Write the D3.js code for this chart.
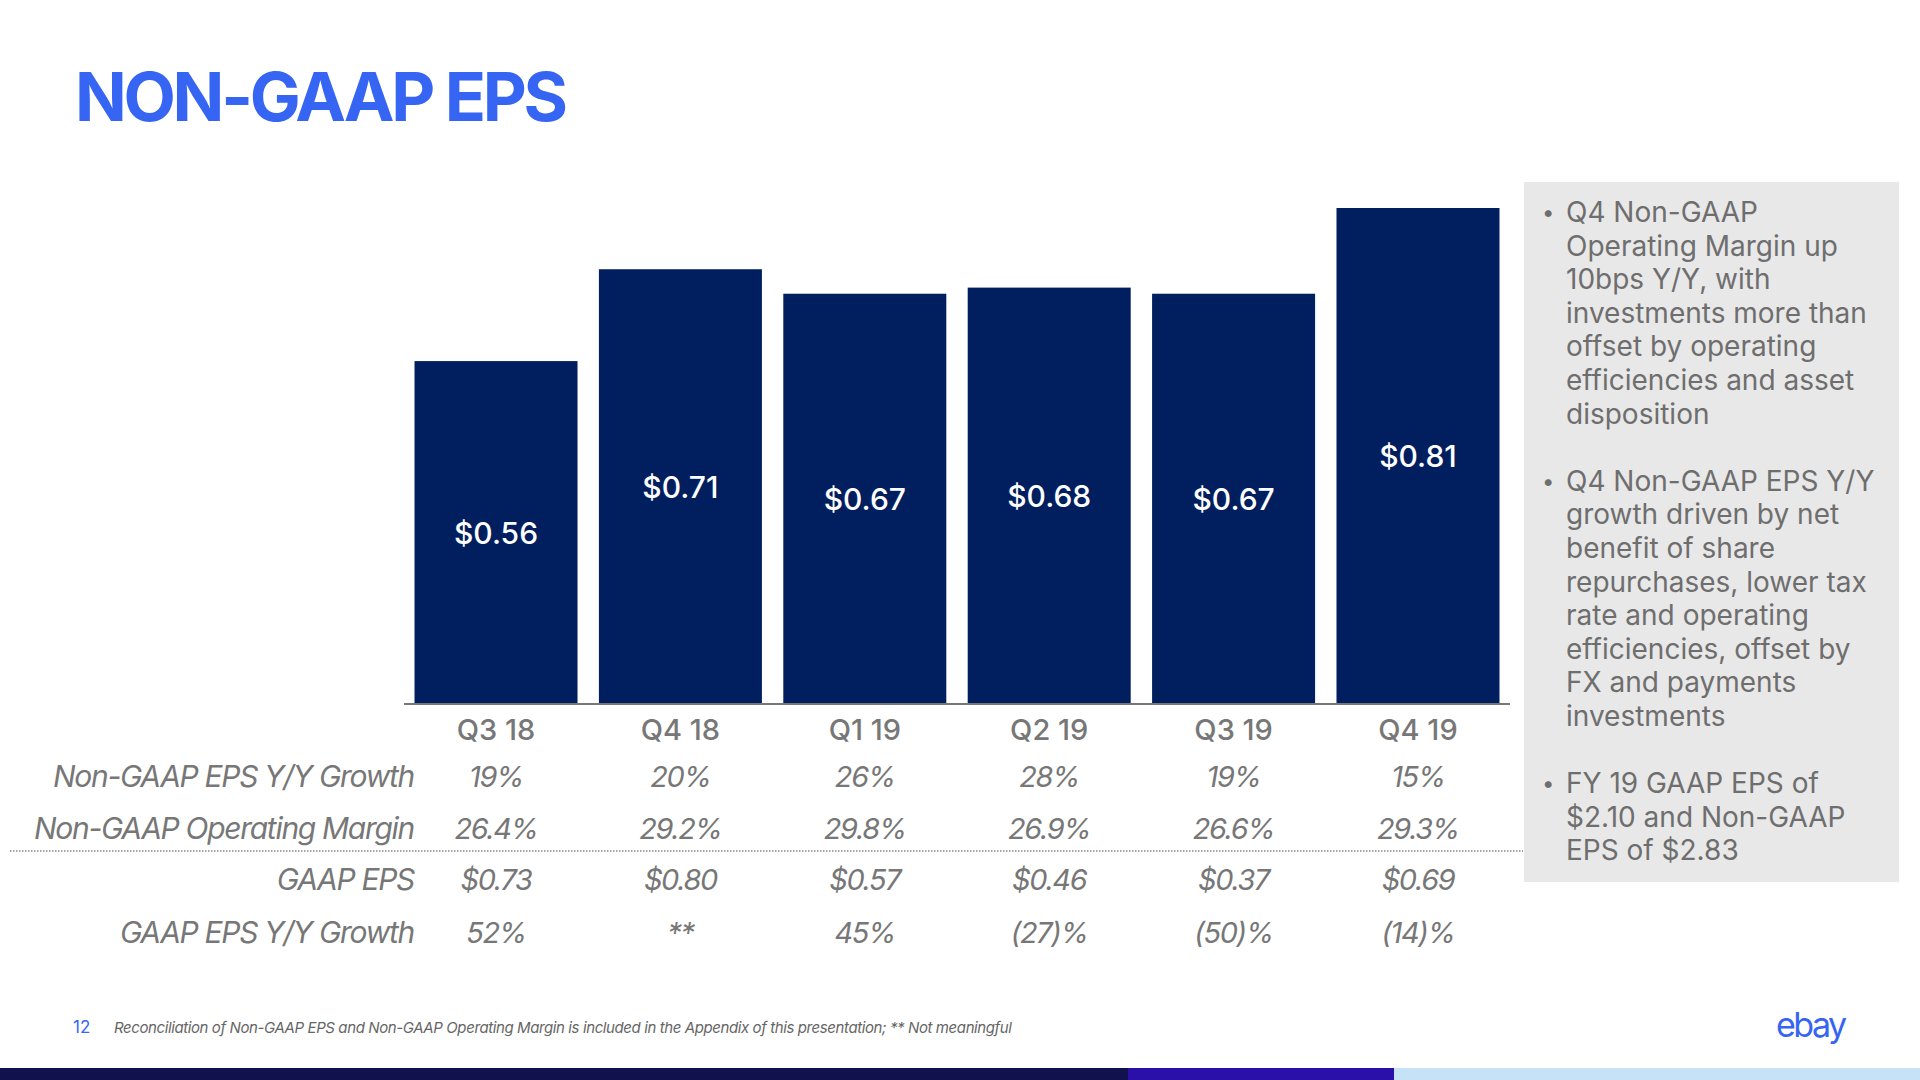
<!DOCTYPE html>
<html>
<head>
<meta charset="utf-8">
<script src="https://cdn.jsdelivr.net/npm/d3@7"></script>
<style>
  html, body { margin: 0; padding: 0; background: #ffffff; }
  svg { display: block; }
  text { font-family: Inter, "Noto Sans", sans-serif; }
</style>
</head>
<body>
<svg id="chart" width="1920" height="1080"></svg>
<script>
// ---- data ----
const categories = ["Q3 18", "Q4 18", "Q1 19", "Q2 19", "Q3 19", "Q4 19"];
const nonGaapEps = [0.56, 0.71, 0.67, 0.68, 0.67, 0.81];
const rowLabels = ["Non-GAAP EPS Y/Y Growth", "Non-GAAP Operating Margin", "GAAP EPS", "GAAP EPS Y/Y Growth"];
const nonGaapGrowth = ["19%", "20%", "26%", "28%", "19%", "15%"];
const nonGaapMargin = ["26.4%", "29.2%", "29.8%", "26.9%", "26.6%", "29.3%"];
const gaapEps = ["$0.73", "$0.80", "$0.57", "$0.46", "$0.37", "$0.69"];
const gaapGrowth = ["52%", "**", "45%", "(27)%", "(50)%", "(14)%"];
const bullets = [
  ["Q4 Non-GAAP", "Operating Margin up", "10bps Y/Y, with", "investments more than", "offset by operating", "efficiencies and asset", "disposition"],
  ["Q4 Non-GAAP EPS Y/Y", "growth driven by net", "benefit of share", "repurchases, lower tax", "rate and operating", "efficiencies, offset by", "FX and payments", "investments"],
  ["FY 19 GAAP EPS of", "$2.10 and Non-GAAP", "EPS of $2.83"]
];
const title = "NON-GAAP EPS";
const footnote = "Reconciliation of Non-GAAP EPS and Non-GAAP Operating Margin is included in the Appendix of this presentation; ** Not meaningful";
const pageNumber = "12";

// ---- layout ----
const svg = d3.select("#chart");
const blue = "#3665f3";
const navy = "#011f5e";
const gray = "#777777";

svg.append("text")
  .attr("x", 75).attr("y", 121)
  .attr("fill", blue)
  .attr("font-size", 68).attr("font-weight", 700)
  .attr("letter-spacing", -3.3)
  .text(title);

const x = d3.scaleBand().domain(categories).range([404, 1510]).paddingInner(0.116).paddingOuter(0.057);
const y = d3.scaleLinear().domain([0, 0.81]).range([704, 208]);

svg.append("g").selectAll("rect").data(nonGaapEps).join("rect")
  .attr("x", (d, i) => x(categories[i]))
  .attr("y", d => y(d))
  .attr("width", x.bandwidth())
  .attr("height", d => y(0) - y(d))
  .attr("fill", navy);

svg.append("g").selectAll("text").data(nonGaapEps).join("text")
  .attr("x", (d, i) => x(categories[i]) + x.bandwidth() / 2)
  .attr("y", d => (y(d) + y(0)) / 2)
  .attr("text-anchor", "middle").attr("dominant-baseline", "central")
  .attr("fill", "#ffffff").attr("font-size", 30).attr("font-weight", 500)
  .text(d => "$" + d.toFixed(2));

// axis
const xAxis = d3.axisBottom(x).tickSize(0).tickPadding(0);
const ax = svg.append("g").attr("transform", "translate(0,704)").call(xAxis);
ax.select(".domain").attr("stroke", gray).attr("stroke-width", 2).attr("d", "M404,0H1510");
ax.selectAll(".tick text")
  .attr("y", 26).attr("dy", "0.35em")
  .attr("fill", gray).attr("font-size", 29).attr("font-weight", 500)
  .attr("font-family", "Inter, sans-serif");

// table
const rows = [nonGaapGrowth, nonGaapMargin, gaapEps, gaapGrowth];
const rowY = [776, 828, 879, 932];
rows.forEach((vals, r) => {
  svg.append("text")
    .attr("x", 414).attr("y", rowY[r])
    .attr("text-anchor", "end").attr("dominant-baseline", "central")
    .attr("fill", gray).attr("font-size", 30).attr("font-style", "italic")
    .attr("letter-spacing", -1.3)
    .text(rowLabels[r]);
  svg.append("g").selectAll("text").data(vals).join("text")
    .attr("x", (d, i) => x(categories[i]) + x.bandwidth() / 2)
    .attr("y", rowY[r])
    .attr("text-anchor", "middle").attr("dominant-baseline", "central")
    .attr("fill", gray).attr("font-size", 29).attr("font-style", "italic")
    .attr("letter-spacing", -1.4)
    .text(d => d);
});

svg.append("line")
  .attr("x1", 10).attr("x2", 1523).attr("y1", 851).attr("y2", 851)
  .attr("stroke", "#888").attr("stroke-width", 1.5).attr("stroke-dasharray", "1.5,1.5");

// right panel
svg.append("rect").attr("x", 1524).attr("y", 182).attr("width", 375).attr("height", 700).attr("fill", "#e8e8e8");
const lineH = 33.6;
let lineIdx = 0;
const panel = svg.append("g");
bullets.forEach((lines, b) => {
  panel.append("text")
    .attr("x", 1542).attr("y", 212 + lineIdx * lineH)
    .attr("dominant-baseline", "central")
    .attr("fill", "#6e6e6e").attr("font-size", 22).text("•");
  lines.forEach(l => {
    panel.append("text")
      .attr("x", 1566).attr("y", 212 + lineIdx * lineH)
      .attr("dominant-baseline", "central")
      .attr("fill", "#6e6e6e").attr("font-size", 28)
      .text(l);
    lineIdx++;
  });
  lineIdx++;
});

// footer
svg.append("text").attr("x", 73).attr("y", 1027).attr("dominant-baseline", "central")
  .attr("fill", blue).attr("font-size", 17).text(pageNumber);
svg.append("text").attr("x", 114).attr("y", 1027).attr("dominant-baseline", "central")
  .attr("fill", "#666").attr("font-size", 15).attr("font-style", "italic")
  .attr("letter-spacing", -0.4)
  .text(footnote);
svg.append("text").attr("x", 1776).attr("y", 1024).attr("dominant-baseline", "central")
  .attr("fill", blue).attr("font-size", 34).attr("letter-spacing", -2.5)
  .text("ebay");

svg.append("rect").attr("x", 0).attr("y", 1068).attr("width", 1128).attr("height", 12).attr("fill", "#11114d");
svg.append("rect").attr("x", 1128).attr("y", 1068).attr("width", 266).attr("height", 12).attr("fill", "#2a0fa8");
svg.append("rect").attr("x", 1394).attr("y", 1068).attr("width", 526).attr("height", 12).attr("fill", "#c6e2f7");
</script>
</body>
</html>
